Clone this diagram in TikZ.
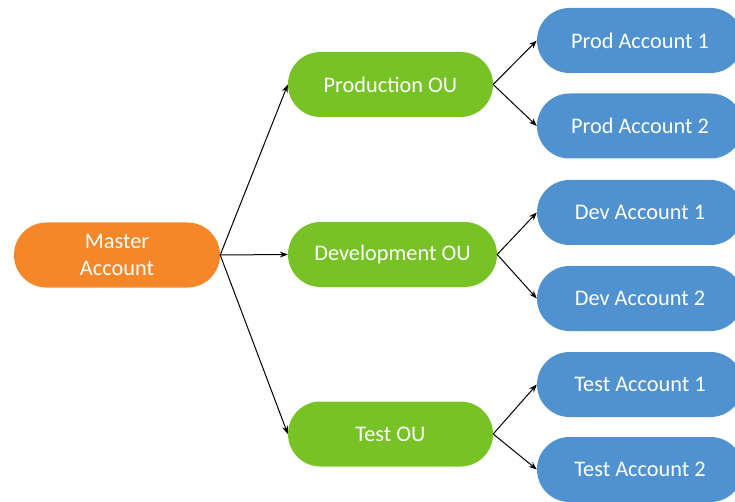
\documentclass[tikz,border=0pt]{standalone}
\usepackage{fontspec}
\setmainfont{Carlito}
\usetikzlibrary{arrows.meta}
\definecolor{orangeA}{RGB}{245,135,40}
\definecolor{greenA}{RGB}{119,194,37}
\definecolor{blueA}{RGB}{80,146,208}
\begin{document}
\begin{tikzpicture}[x=1pt,y=-1pt,
  box/.style={rectangle,rounded corners=32.5pt,minimum height=65pt,inner sep=0pt,
    text=white,font=\fontsize{22.3}{27}\selectfont,align=center},
  master/.style={box,fill=orangeA,minimum width=206pt},
  ou/.style={box,fill=greenA,minimum width=205pt},
  acct/.style={box,fill=blueA,minimum width=206pt},
  conn/.style={-{Stealth[length=8pt,width=6pt]},line width=1pt,black}]
\useasboundingbox (0,0) rectangle (735,502);
\node[master] (m) at (117,255) {Master\\Account};
\node[ou] (p) at (390.5,84.5) {Production OU};
\node[ou,minimum width=209pt] (d) at (392.5,254.5) {Development OU};
\node[ou] (t) at (390.5,434) {Test OU};
\node[acct] (p1) at (640,40.5) {Prod Account 1};
\node[acct] (p2) at (640,126) {Prod Account 2};
\node[acct] (d1) at (640,212.5) {Dev Account 1};
\node[acct] (d2) at (640,298.5) {Dev Account 2};
\node[acct] (t1) at (640,384.5) {Test Account 1};
\node[acct] (t2) at (640,469.5) {Test Account 2};
\foreach \o in {p,d,t} \draw[conn] (m.east) -- (\o.west);
\draw[conn] (p.east) -- (p1.west);
\draw[conn] (p.east) -- (p2.west);
\draw[conn] (d.east) -- (d1.west);
\draw[conn] (d.east) -- (d2.west);
\draw[conn] (t.east) -- (t1.west);
\draw[conn] (t.east) -- (t2.west);
\end{tikzpicture}
\end{document}
